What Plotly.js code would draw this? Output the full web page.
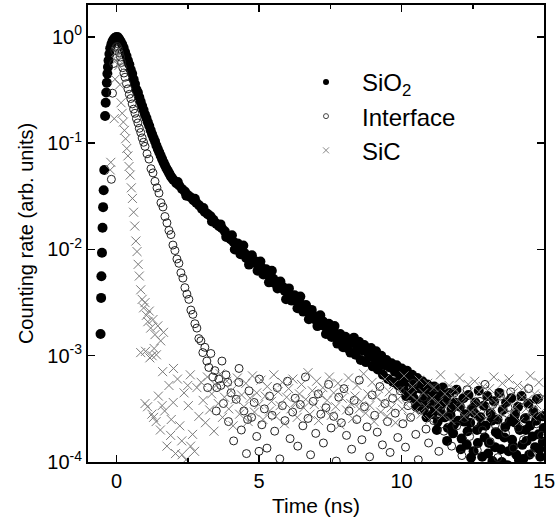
<!DOCTYPE html>
<html><head><meta charset="utf-8">
<script src="https://cdn.plot.ly/plotly-3.0.1.min.js"></script>
<style>html,body{margin:0;padding:0;background:#fff;} #chart{width:558px;height:527px;}</style>
</head><body><div id="chart"></div>
<script>
// ---------- SiO2 (filled circles) ----------
const sio2RiseTime = [-0.56,-0.54,-0.53,-0.51,-0.49,-0.47,-0.45,-0.43,-0.40,-0.38,
  -0.36,-0.34,-0.32,-0.30,-0.28,-0.25,-0.22,-0.18,-0.14,-0.10,-0.05];
const sio2RiseRate = [1.6e-3,3.5e-3,5.6e-3,9.3e-3,1.6e-2,2.5e-2,3.6e-2,5.6e-2,0.18,0.24,
  0.30,0.37,0.45,0.52,0.60,0.69,0.78,0.85,0.91,0.95,0.98];

const sio2PeakTime = [0.00,0.05,0.10,0.15,0.20,0.25,0.30,0.35,0.40,0.45,
  0.50,0.55,0.60,0.65,0.70,0.75,0.80,0.85,0.90,0.95,
  1.00,1.05,1.10,1.15,1.20,1.25,1.30,1.35,1.40,1.45,
  1.50,1.55,1.60,1.65,1.70,1.75,1.80,1.85,1.90,1.95,2.00];
const sio2PeakRate = [1.00,0.99,0.95,0.90,0.85,0.79,0.72,0.66,0.60,0.55,
  0.49,0.45,0.40,0.36,0.32,0.30,0.27,0.245,0.224,0.205,
  0.186,0.172,0.157,0.145,0.132,0.121,0.112,0.104,0.095,0.088,
  0.082,0.076,0.071,0.066,0.062,0.058,0.055,0.052,0.049,0.047,0.045];

const sio2DecayTime = [2.1,2.2,2.3,2.4,2.5,2.6,2.7,2.8,2.9,3.0,
  3.1,3.2,3.3,3.4,3.5,3.6,3.7,3.8,3.9,4.0,
  4.1,4.2,4.3,4.4,4.5,4.6,4.7,4.8,4.9,5.0,
  5.1,5.2,5.3,5.4,5.5,5.6,5.7,5.8,5.9,6.0,
  6.1,6.2,6.3,6.4,6.5,6.6,6.7,6.8,6.9,7.0,
  7.1,7.2,7.3,7.4,7.5,7.6,7.7,7.8,7.9,8.0];
const sio2DecayRate = [0.042,0.040,0.037,0.035,0.0325,0.031,0.029,0.0275,0.026,0.024,
  0.0225,0.0215,0.0205,0.019,0.0175,0.0165,0.0158,0.0148,0.0132,0.0125,
  0.0118,0.0112,0.0103,0.0098,0.0092,0.0086,0.0083,0.0077,0.0074,0.0069,
  0.0067,0.0062,0.0058,0.0056,0.0053,0.0049,0.0047,0.0044,0.0041,0.0040,
  0.0037,0.0036,0.0033,0.0032,0.0030,0.0029,0.0027,0.0025,0.0024,0.0023,
  0.0021,0.0021,0.0019,0.0018,0.0018,0.0016,0.0016,0.0015,0.0014,0.0014];

const sio2SpreadTime = [2.15,2.45,2.75,3.05,3.35,3.65,3.85,
  4.05,4.15,4.25,4.35,4.45,4.55,4.65,4.75,4.85,4.95,
  5.05,5.15,5.25,5.35,5.45,5.55,5.65,5.75,5.85,5.95,
  6.05,6.15,6.25,6.35,6.45,6.55,6.65,6.75,6.85,6.95,
  7.05,7.15,7.25,7.35,7.45,7.55,7.65,7.75,7.85,7.95];
const sio2SpreadRate = [0.043,0.032,0.030,0.0245,0.0183,0.0172,0.0131,
  0.0136,0.0100,0.0114,0.0090,0.0109,0.0083,0.0072,0.0088,0.0078,0.0063,
  0.0077,0.0058,0.0065,0.0049,0.0063,0.0048,0.0043,0.0050,0.0044,0.0034,
  0.0043,0.0033,0.0037,0.0028,0.0036,0.0026,0.0030,0.0022,0.0027,0.0022,
  0.0019,0.0024,0.0021,0.0016,0.0020,0.0015,0.0019,0.0013,0.0016,0.0012];

const sio2TailTime = [8.03,8.09,8.15,8.21,8.27,8.33,8.39,8.45,8.51,8.57,
  8.63,8.69,8.75,8.81,8.87,8.93,8.99,9.05,9.11,9.17,
  9.23,9.29,9.35,9.41,9.47,9.53,9.59,9.65,9.71,9.77,
  9.83,9.89,9.95,10.01,10.07,10.13,10.19,10.25,10.31,10.37,
  10.43,10.49,10.55,10.61,10.67,10.73,10.79,10.85,10.91,10.97,
  11.03,11.09,11.15,11.21,11.27,11.33,11.39,11.45,11.51,11.57,
  11.63,11.69,11.75,11.81,11.87,11.93,11.99,12.05,12.11,12.17,
  12.23,12.29,12.35,12.41,12.47,12.53,12.59,12.65,12.71,12.77,
  12.83,12.89,12.95,13.01,13.07,13.13,13.19,13.25,13.31,13.37,
  13.43,13.49,13.55,13.61,13.67,13.73,13.79,13.85,13.91,13.97,
  14.03,14.09,14.15,14.21,14.27,14.33,14.39,14.45,14.51,14.57,
  14.63,14.69,14.75,14.81,14.87,14.93,14.99];
const sio2TailRate = [1.51e-3,1.18e-3,1.41e-3,1.07e-3,1.32e-3,1.48e-3,1.02e-3,1.20e-3,1.35e-3,9.12e-4,
  1.12e-3,1.26e-3,8.71e-4,1.07e-3,9.77e-4,1.18e-3,7.94e-4,9.55e-4,1.10e-3,7.41e-4,
  8.71e-4,1.00e-3,6.61e-4,8.13e-4,9.12e-4,6.03e-4,7.76e-4,8.51e-4,5.62e-4,7.08e-4,
  8.13e-4,5.25e-4,6.46e-4,7.59e-4,4.90e-4,6.03e-4,7.24e-4,4.37e-4,5.62e-4,6.61e-4,
  3.98e-4,5.25e-4,6.17e-4,3.55e-4,4.90e-4,5.75e-4,3.16e-4,4.47e-4,5.37e-4,3.63e-4,
  4.68e-4,2.82e-4,5.13e-4,3.98e-4,2.40e-4,4.37e-4,3.39e-4,5.01e-4,2.63e-4,3.80e-4,
  2.09e-4,4.47e-4,3.16e-4,1.86e-4,3.63e-4,4.79e-4,2.45e-4,3.31e-4,1.66e-4,3.98e-4,
  2.82e-4,1.45e-4,4.27e-4,2.34e-4,3.16e-4,1.26e-4,3.63e-4,2.00e-4,4.68e-4,2.63e-4,
  1.12e-4,3.39e-4,2.19e-4,4.17e-4,1.51e-4,2.88e-4,1.02e-4,3.72e-4,1.91e-4,2.51e-4,
  4.47e-4,1.32e-4,3.09e-4,1.70e-4,3.63e-4,9.33e-5,2.40e-4,3.98e-4,1.41e-4,2.75e-4,
  1.17e-4,3.31e-4,2.00e-4,4.17e-4,1.07e-4,2.57e-4,1.58e-4,3.55e-4,2.19e-4,8.91e-5,
  2.95e-4,1.38e-4,3.89e-4,1.82e-4,1.12e-4,2.69e-4,2.09e-4];

const sio2Tail2Time = [10.04,10.16,10.28,10.40,10.52,10.64,10.76,10.88,11.00,11.12,
  11.24,11.36,11.48,11.60,11.72,11.84,11.96,12.08,12.20,12.32,
  12.44,12.56,12.68,12.80,12.92,13.04,13.16,13.28,13.40,13.52,
  13.64,13.76,13.88,14.00,14.12,14.24,14.36,14.48,14.60,14.72,
  14.84,14.96];
const sio2Tail2Rate = [5.50e-4,4.17e-4,6.46e-4,4.68e-4,3.31e-4,5.13e-4,3.89e-4,2.63e-4,4.37e-4,3.39e-4,
  2.00e-4,3.02e-4,4.07e-4,1.58e-4,2.75e-4,2.24e-4,3.55e-4,1.32e-4,2.40e-4,1.95e-4,
  1.10e-4,2.88e-4,1.51e-4,2.19e-4,1.70e-4,1.20e-4,2.45e-4,1.38e-4,1.82e-4,1.00e-4,
  2.14e-4,1.26e-4,1.62e-4,2.34e-4,1.05e-4,1.45e-4,2.00e-4,1.17e-4,1.74e-4,2.45e-4,
  1.32e-4,1.55e-4];

// ---------- Interface (open circles) ----------
const ifaceDecayTime = [-0.18,-0.14,-0.10,-0.06,-0.02,0.02,0.06,0.10,0.14,0.18,
  0.22,0.26,0.30,0.35,0.40,0.45,0.50,0.55,0.60,0.65,
  0.70,0.75,0.80,0.85,0.90,0.95,1.00,1.07,1.14,1.21,
  1.28,1.35,1.42,1.49,1.56,1.63,1.70,1.77,1.84,1.91,
  1.98,2.05,2.12,2.19,2.26,2.33,2.40,2.47,2.54,2.61,
  2.68,2.75,2.82,2.89,2.96,3.03,3.10,3.17,3.24,3.31,
  3.38,3.45,3.52,3.59];
const ifaceDecayRate = [0.0457,0.295,0.562,0.741,0.794,0.813,0.776,0.708,0.646,0.575,
  0.513,0.457,0.417,0.363,0.324,0.288,0.263,0.234,0.209,0.191,
  0.170,0.155,0.138,0.126,0.112,0.102,0.0933,0.0794,0.0708,0.0575,
  0.0525,0.0437,0.0380,0.0339,0.0275,0.0251,0.0204,0.0178,0.0151,0.0138,
  0.0110,0.00977,0.00813,0.00741,0.00603,0.00537,0.00437,0.00380,0.00339,0.00269,
  0.00245,0.00200,0.00182,0.00145,0.00138,0.00107,0.00120,8.91e-4,7.76e-4,1.05e-3,
  6.31e-4,7.24e-4,5.01e-4,6.03e-4];

const ifaceBgTime = [3.20,3.50,3.70,3.90,4.30,4.60,5.00,
  3.66,3.75,3.84,3.93,4.02,4.11,4.20,4.29,4.38,4.47,
  4.56,4.65,4.74,4.83,4.92,5.01,5.10,5.19,5.28,5.37,
  5.46,5.55,5.64,5.73,5.82,5.91,6.00,6.09,6.18,6.27,
  6.36,6.45,6.54,6.63,6.72,6.81,6.90,6.99,7.08,7.17,
  7.26,7.35,7.44,7.53,7.62,7.71,7.80,7.89,7.98,8.07,
  8.16,8.25,8.34,8.43,8.52,8.61,8.70,8.79,8.88,8.97,
  9.06,9.15,9.24,9.33,9.42,9.51,9.60,9.69,9.78,9.87,
  9.96,10.05,10.14,10.23,10.32,10.41,10.50,10.59,10.68,10.77,
  10.86,10.95,11.04,11.13,11.22,11.31,11.40,11.49,11.58,11.67,
  11.76,11.85,11.94,12.03,12.12,12.21,12.30,12.39,12.48,12.57,
  12.66,12.75,12.84,12.93,13.02,13.11,13.20,13.29,13.38,13.47,
  13.56,13.65,13.74,13.83,13.92,14.01,14.10,14.19,14.28,14.37,
  14.46,14.55,14.64,14.73,14.82,14.91,15.00];
const ifaceBgRate = [5.01e-4,3.02e-4,8.91e-4,5.62e-4,7.59e-4,2.51e-4,1.26e-4,
  5.25e-4,3.55e-4,6.61e-4,2.40e-4,4.47e-4,1.58e-4,3.89e-4,5.62e-4,2.00e-4,3.02e-4,
  1.20e-4,4.68e-4,2.63e-4,3.63e-4,1.74e-4,6.03e-4,2.24e-4,3.16e-4,1.35e-4,4.17e-4,
  2.75e-4,1.95e-4,5.01e-4,1.07e-4,3.39e-4,2.45e-4,5.75e-4,1.66e-4,2.95e-4,3.98e-4,
  1.41e-4,3.47e-4,2.19e-4,6.31e-4,2.57e-4,1.17e-4,3.72e-4,1.86e-4,4.37e-4,2.82e-4,
  1.51e-4,3.24e-4,5.37e-4,2.09e-4,2.69e-4,1.02e-4,4.07e-4,2.34e-4,4.90e-4,1.78e-4,
  3.02e-4,1.32e-4,3.80e-4,2.51e-4,5.89e-4,1.62e-4,3.31e-4,2.14e-4,1.12e-4,4.27e-4,
  2.75e-4,1.91e-4,5.13e-4,1.45e-4,3.55e-4,2.40e-4,1.23e-4,3.98e-4,2.88e-4,1.70e-4,
  4.68e-4,2.29e-4,1.38e-4,3.39e-4,2.63e-4,5.50e-4,1.82e-4,1.05e-4,3.09e-4,4.07e-4,
  2.04e-4,1.51e-4,3.63e-4,2.45e-4,5.01e-4,1.26e-4,2.95e-4,1.95e-4,3.89e-4,2.69e-4,
  1.41e-4,4.47e-4,2.19e-4,3.31e-4,1.15e-4,2.57e-4,4.79e-4,1.74e-4,3.16e-4,2.34e-4,
  1.29e-4,3.72e-4,2.00e-4,5.37e-4,2.82e-4,1.55e-4,3.47e-4,2.24e-4,1.10e-4,4.17e-4,
  2.51e-4,1.86e-4,3.24e-4,4.57e-4,1.35e-4,2.88e-4,2.09e-4,3.80e-4,1.62e-4,2.63e-4,
  4.90e-4,1.20e-4,3.09e-4,2.29e-4,3.98e-4,1.78e-4,2.75e-4];

// ---------- SiC (crosses) ----------
const sicDecayTime = [-0.22,-0.20,-0.08,-0.05,-0.02,0.00,0.04,0.08,0.12,0.16,
  0.20,0.24,0.28,0.32,0.36,0.40,0.44,0.48,0.52,0.56,
  0.60,0.64,0.68,0.72,0.76,0.80,0.85,0.90,0.95,1.00,
  1.05,1.10,1.15,1.20,1.28,1.35,1.45,1.55,1.65];
const sicDecayRate = [0.056,0.066,0.17,0.40,0.60,0.724,0.676,0.537,0.355,0.240,
  0.191,0.158,0.132,0.110,0.0891,0.0759,0.0603,0.0501,0.0380,0.0302,
  0.0224,0.0166,0.0120,0.00955,0.00724,0.00562,0.00417,0.00339,0.00282,0.00316,
  0.00240,0.00209,0.00263,0.00182,0.00219,0.00158,0.00191,0.00138,0.00166];

const sicBgTime = [0.85,1.25,1.40,1.00,1.30,1.60,1.90,2.30,2.60,2.00,2.50,
  1.02,1.09,1.17,1.24,1.32,1.39,1.47,1.54,1.62,1.69,
  1.77,1.84,1.92,1.99,2.07,2.14,2.22,2.29,2.37,2.44,
  2.52,2.59,2.67,2.74,2.82,2.89,2.97,
  3.04,3.12,3.19,3.27,3.34,3.42,3.49,3.57,3.64,3.72,
  3.79,3.87,3.94,4.02,4.09,4.17,4.24,4.32,4.39,4.47,
  4.54,4.62,4.69,4.77,4.84,4.92,4.99,5.07,5.14,5.22,
  5.29,5.37,5.44,5.52,5.59,5.67,5.74,5.82,5.89,5.97,
  6.04,6.12,6.19,6.27,6.34,6.42,6.49,6.57,6.64,6.72,
  6.79,6.87,6.94,7.02,7.09,7.17,7.24,7.32,7.39,7.47,
  7.54,7.62,7.69,7.77,7.84,7.92,7.99,8.07,8.14,8.22,
  8.29,8.37,8.44,8.52,8.59,8.67,8.74,8.82,8.89,8.97,
  9.04,9.12,9.19,9.27,9.34,9.42,9.49,9.57,9.64,9.72,
  9.79,9.87,9.94,10.02,10.09,10.17,10.24,10.32,10.39,10.47,
  10.54,10.62,10.69,10.77,10.84,10.92,10.99,11.07,11.14,11.22,
  11.29,11.37,11.44,11.52,11.59,11.67,11.74,11.82,11.89,11.97,
  12.04,12.12,12.19,12.27,12.34,12.42,12.49,12.57,12.64,12.72,
  12.79,12.87,12.94,13.02,13.09,13.17,13.24,13.32,13.39,13.47,
  13.54,13.62,13.69,13.77,13.84,13.92,13.99,14.07,14.14,14.22,
  14.29,14.37,14.44,14.52,14.59,14.67,14.74,14.82,14.89,14.97];
const sicBgRate = [1.07e-3,1.00e-3,1.02e-3,3.55e-4,2.63e-4,3.39e-4,1.78e-4,1.17e-4,1.41e-4,7.59e-4,5.25e-4,
  1.10e-3,3.31e-4,9.55e-4,2.82e-4,1.17e-3,2.40e-4,4.17e-4,2.00e-4,7.08e-4,3.02e-4,
  1.41e-4,5.25e-4,2.51e-4,3.63e-4,1.20e-4,6.03e-4,2.19e-4,1.58e-4,4.47e-4,1.05e-4,
  3.39e-4,6.61e-4,1.82e-4,1.26e-4,5.01e-4,2.69e-4,5.62e-4,
  3.80e-4,2.34e-4,6.31e-4,3.09e-4,4.37e-4,1.95e-4,5.25e-4,3.55e-4,6.76e-4,2.63e-4,
  4.07e-4,5.75e-4,3.16e-4,4.68e-4,2.19e-4,3.89e-4,6.17e-4,2.82e-4,4.27e-4,3.31e-4,
  5.50e-4,2.40e-4,3.98e-4,6.46e-4,2.95e-4,4.47e-4,3.47e-4,5.89e-4,2.51e-4,4.17e-4,
  5.13e-4,3.02e-4,3.72e-4,6.61e-4,2.69e-4,4.57e-4,3.39e-4,5.62e-4,2.29e-4,4.07e-4,
  4.90e-4,3.16e-4,6.03e-4,3.63e-4,2.63e-4,4.37e-4,5.37e-4,3.24e-4,3.89e-4,6.92e-4,
  2.82e-4,4.68e-4,3.47e-4,5.75e-4,2.45e-4,4.27e-4,5.01e-4,3.02e-4,3.80e-4,6.31e-4,
  2.75e-4,4.47e-4,3.31e-4,5.50e-4,2.24e-4,3.98e-4,4.79e-4,3.09e-4,6.17e-4,3.55e-4,
  2.57e-4,4.17e-4,5.25e-4,3.16e-4,3.72e-4,6.76e-4,2.88e-4,4.37e-4,3.39e-4,5.62e-4,
  2.40e-4,4.07e-4,4.90e-4,2.95e-4,3.63e-4,6.03e-4,2.69e-4,4.57e-4,3.24e-4,5.37e-4,
  2.34e-4,3.89e-4,4.68e-4,3.16e-4,6.46e-4,3.47e-4,2.63e-4,4.27e-4,5.13e-4,3.02e-4,
  3.80e-4,5.89e-4,2.82e-4,4.47e-4,3.31e-4,5.50e-4,2.51e-4,3.98e-4,5.01e-4,3.09e-4,
  3.63e-4,6.61e-4,2.75e-4,4.37e-4,3.39e-4,5.25e-4,2.45e-4,4.07e-4,4.79e-4,3.24e-4,
  6.17e-4,3.55e-4,2.69e-4,4.17e-4,5.37e-4,2.95e-4,3.72e-4,5.75e-4,2.82e-4,4.57e-4,
  3.47e-4,5.13e-4,2.57e-4,3.98e-4,4.90e-4,3.16e-4,6.31e-4,3.63e-4,2.75e-4,4.27e-4,
  5.50e-4,3.09e-4,3.80e-4,6.03e-4,2.88e-4,4.47e-4,3.31e-4,5.25e-4,2.40e-4,4.07e-4,
  5.01e-4,3.16e-4,3.89e-4,6.46e-4,2.69e-4,4.37e-4,3.47e-4,5.62e-4,2.95e-4,4.17e-4];

// ---------- axis ticks / labels ----------
const xTickVals = [0, 5, 10, 15];
const xTickText = ['0', '5', '10', '15'];
const xMinorVals = [2.5, 7.5, 12.5];
const yTickVals = [1e-4, 1e-3, 1e-2, 1e-1, 1];
const yTickText = ['10<sup>-4</sup>', '10<sup>-3</sup>', '10<sup>-2</sup>', '10<sup>-1</sup>', '10<sup>0</sup>'];
const seriesNames = ['SiO<sub>2</sub>', 'Interface', 'SiC'];

const FONT = 'Liberation Sans, Arial, Helvetica, sans-serif';

const sio2Marker = {symbol: 'circle', size: 10, color: '#000', line: {width: 0}};
const ifaceMarker = {symbol: 'circle-open', size: 8, color: '#222', line: {width: 1, color: '#222'}};
const sicMarker = {symbol: 'x-thin-open', size: 9, color: '#7a7a7a', line: {width: 1, color: '#7a7a7a'}};

const traces = [
  {
    type: 'scatter', mode: 'markers', name: seriesNames[0], legendgroup: 'a', showlegend: false,
    x: [].concat(sio2RiseTime, sio2PeakTime, sio2DecayTime, sio2SpreadTime, sio2TailTime, sio2Tail2Time),
    y: [].concat(sio2RiseRate, sio2PeakRate, sio2DecayRate, sio2SpreadRate, sio2TailRate, sio2Tail2Rate),
    marker: sio2Marker
  },
  {
    type: 'scatter', mode: 'markers', name: seriesNames[1], legendgroup: 'b', showlegend: false,
    x: [].concat(ifaceDecayTime, ifaceBgTime),
    y: [].concat(ifaceDecayRate, ifaceBgRate),
    marker: ifaceMarker
  },
  {
    type: 'scatter', mode: 'markers', name: seriesNames[2], legendgroup: 'c', showlegend: false,
    x: [].concat(sicDecayTime, sicBgTime),
    y: [].concat(sicDecayRate, sicBgRate),
    marker: sicMarker
  },
  // legend keys (smaller symbols, as in the original legend)
  {type: 'scatter', mode: 'markers', name: seriesNames[0], legendgroup: 'a', x: [null], y: [null],
   marker: {symbol: 'circle', size: 6, color: '#000'}},
  {type: 'scatter', mode: 'markers', name: seriesNames[1], legendgroup: 'b', x: [null], y: [null],
   marker: {symbol: 'circle-open', size: 5, color: '#444', line: {width: 1, color: '#444'}}},
  {type: 'scatter', mode: 'markers', name: seriesNames[2], legendgroup: 'c', x: [null], y: [null],
   marker: {symbol: 'x-thin-open', size: 6, color: '#888', line: {width: 1, color: '#888'}}}
];

const layout = {
  width: 558, height: 527,
  margin: {l: 88, r: 14, t: 5, b: 65, pad: 0},
  paper_bgcolor: '#fff', plot_bgcolor: '#fff',
  font: {family: FONT, size: 20, color: '#000'},
  showlegend: true,
  legend: {
    x: 0.443, y: 0.88, xanchor: 'left', yanchor: 'top',
    font: {family: FONT, size: 24, color: '#000'},
    bgcolor: 'rgba(0,0,0,0)', borderwidth: 0, itemwidth: 62, tracegroupgap: 0
  },
  xaxis: {
    range: [-1, 15], tickmode: 'array', tickvals: xTickVals, ticktext: xTickText,
    ticks: 'inside', ticklen: 7, tickwidth: 1.5, tickcolor: '#000',
    minor: {tickmode: 'array', tickvals: xMinorVals, ticks: 'inside', ticklen: 4, tickwidth: 1.5, tickcolor: '#000'},
    showline: true, linewidth: 2, linecolor: '#000', mirror: 'ticks',
    showgrid: false, zeroline: false,
    tickfont: {family: FONT, size: 20, color: '#000'},
    title: {text: 'Time (ns)', font: {family: FONT, size: 21, color: '#000'}, standoff: 7}
  },
  yaxis: {
    type: 'log', range: [-4, 0.3], tickmode: 'array', tickvals: yTickVals, ticktext: yTickText,
    ticks: 'inside', ticklen: 7, tickwidth: 1.5, tickcolor: '#000',
    showline: true, linewidth: 2, linecolor: '#000', mirror: 'ticks',
    showgrid: false, zeroline: false,
    tickfont: {family: FONT, size: 20, color: '#000'},
    title: {text: 'Counting rate (arb. units)', font: {family: FONT, size: 20, color: '#000'}, standoff: 8}
  }
};

Plotly.newPlot('chart', traces, layout, {staticPlot: true, displayModeBar: false});
</script>
</body></html>
